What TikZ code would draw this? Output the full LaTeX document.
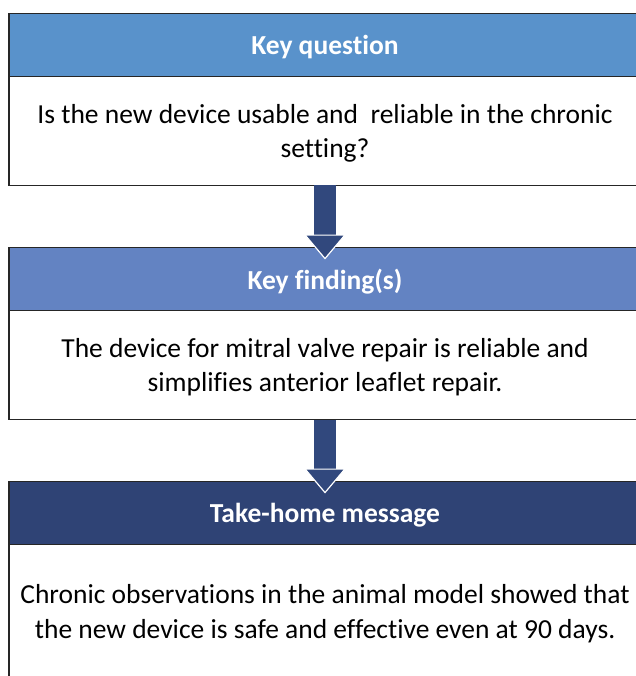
\documentclass[tikz,border=0pt]{standalone}
\usepackage{fontspec}
\setmainfont[Ligatures=NoCommon]{Carlito}
\usepackage{xcolor}
\usetikzlibrary{arrows.meta, positioning}

\definecolor{questionblue}{RGB}{89,146,203}
\definecolor{findingblue}{RGB}{99,131,194}
\definecolor{messagenavy}{RGB}{47,67,117}
\definecolor{arrownavy}{RGB}{49,72,125}

\begin{document}
\begin{tikzpicture}[
    x=1pt, y=1pt,
    node distance=62pt,
    head/.style={rectangle, draw=black!85, line width=1.6pt, minimum width=632pt, minimum height=63pt, outer sep=0pt, text depth=0pt, text=white, font=\fontsize{27.5}{34}\selectfont\bfseries},
    body/.style={rectangle, draw=black!85, line width=1.6pt, fill=white, minimum width=632pt, minimum height=109pt, outer sep=0pt, text depth=0pt, align=center, font=\fontsize{27.5}{34.5}\selectfont},
    arrow/.style={draw=arrownavy, line width=22pt, -{Triangle[width=42pt, length=25pt, line width=1.2pt, fill=arrownavy, color=white]}}
]
\useasboundingbox (0,0) rectangle (635,-676);

% Key question
\node[head, fill=questionblue] (qhead) at (325,-45) {Key question};
\node[body, below=0pt of qhead] (qbody) {Is the new device usable and\ \ reliable in the chronic\\setting?};

% Key findings
\node[head, fill=findingblue, below=of qbody] (fhead) {Key finding(s)};
\node[body, below=0pt of fhead] (fbody) {The device for mitral valve repair is reliable and\\simplifies anterior leaflet repair.};

% Take-home message
\node[head, fill=messagenavy, below=of fbody] (mhead) {Take-home message};
\node[body, minimum height=134pt, below=0pt of mhead] (mbody) {Chronic observations in the animal model showed that\\the new device is safe and effective even at 90 days.};

% Arrows
\coordinate (ftip) at ([yshift=-12pt]fhead.north);
\coordinate (mtip) at ([yshift=-12pt]mhead.north);
\draw[arrow] (qbody) -- (ftip);
\draw[arrow] (fbody) -- (mtip);

\end{tikzpicture}
\end{document}
